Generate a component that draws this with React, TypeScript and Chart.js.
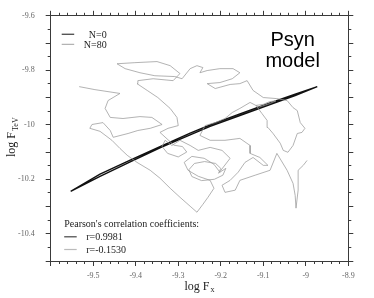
import React, { useEffect, useRef } from 'react';
import { Chart, registerables } from 'chart.js';

Chart.register(...registerables);

// ---- data (log F_x, log F_TeV) ----
const xRange = [-9.6, -8.9];
const yRange = [-10.5, -9.6];
const xTickLabels = ['-9.5', '-9.4', '-9.3', '-9.2', '-9.1', '-9', '-8.9'];
const yTickLabels = ['-9.6', '-9.8', '-10', '-10.2', '-10.4'];

// N=0 : tight, almost linear loop
const n0X = [-9.553, -9.484, -9.413, -9.343, -9.272, -9.225, -9.155, -9.084, -9.025, -8.973,
  -9.025, -9.084, -9.155, -9.225, -9.272, -9.343, -9.413, -9.484, -9.553];
const n0Y = [-10.244, -10.189, -10.136, -10.085, -10.037, -10.006, -9.966, -9.926, -9.893, -9.860,
  -9.888, -9.920, -9.960, -10.000, -10.031, -10.080, -10.130, -10.181, -10.244];

// N=80 : wandering track
const n80X = [-9.533, -9.496, -9.437, -9.465, -9.472, -9.460, -9.430, -9.390, -9.362, -9.338,
  -9.366, -9.395, -9.418, -9.453, -9.460, -9.477, -9.503, -9.508, -9.484, -9.456,
  -9.437, -9.420, -9.397, -9.366, -9.343, -9.319, -9.296, -9.272, -9.256, -9.242,
  -9.230, -9.216, -9.225, -9.253, -9.277, -9.286, -9.268, -9.239, -9.216, -9.202,
  -9.188, -9.195, -9.215, -9.245, -9.268, -9.275, -9.262, -9.238, -9.212, -9.200,
  -9.205, -9.178, -9.197, -9.225, -9.253, -9.272, -9.296, -9.315, -9.331,
  -9.338, -9.325, -9.300, -9.280, -9.290, -9.310, -9.343,
  -9.324, -9.300, -9.303, -9.319, -9.348, -9.373, -9.397, -9.395, -9.359, -9.312,
  -9.296, -9.319, -9.350, -9.402, -9.444, -9.425, -9.390, -9.355, -9.308, -9.291,
  -9.272, -9.256, -9.242, -9.249, -9.232, -9.202, -9.171, -9.155, -9.173, -9.202,
  -9.232, -9.213, -9.178, -9.155, -9.138, -9.124, -9.100, -9.068, -9.044, -9.030,
  -9.020, -9.013, -9.002, -9.009, -9.020, -9.030, -9.042, -9.053, -9.060, -9.077,
  -9.089, -9.091, -9.103, -9.117, -9.100, -9.085, -9.070, -9.085, -9.110,
  -9.131, -9.155, -9.173, -9.190, -9.213, -9.237,
  -9.249, -9.225, -9.190, -9.155, -9.131, -9.131, -9.108, -9.089, -9.100, -9.124,
  -9.143, -9.159, -9.178, -9.197, -9.190, -9.166, -9.155, -9.119, -9.084, -9.068,
  -9.044, -9.030, -9.025, -9.023, -9.018, -9.018, -9.006, -8.997];
const n80Y = [-9.860, -9.871, -9.885, -9.911, -9.940, -9.973, -9.977, -9.970, -9.973, -9.999,
  -10.013, -10.021, -10.032, -10.046, -10.021, -9.992, -9.999, -10.013, -10.024, -10.057,
  -10.087, -10.112, -10.138, -10.167, -10.196, -10.233, -10.266, -10.299, -10.321, -10.292,
  -10.266, -10.233, -10.204, -10.189, -10.167, -10.138, -10.116, -10.123, -10.145, -10.174,
  -10.160, -10.185, -10.200, -10.205, -10.190, -10.165, -10.142, -10.135, -10.142, -10.160,
  -10.178, -10.123, -10.094, -10.083, -10.094, -10.076, -10.057, -10.076, -10.057,
  -10.080, -10.105, -10.118, -10.100, -10.080, -10.075, -10.028,
  -10.013, -10.003, -9.973, -9.940, -9.900, -9.874, -9.849, -9.838, -9.831, -9.838,
  -9.812, -9.783, -9.768, -9.772, -9.776, -9.794, -9.809, -9.820, -9.823, -9.831,
  -9.794, -9.783, -9.790, -9.809, -9.801, -9.794, -9.794, -9.809, -9.831, -9.845,
  -9.849, -9.867, -9.852, -9.849, -9.838, -9.874, -9.900, -9.904, -9.911, -9.937,
  -9.948, -9.992, -10.013, -10.028, -10.032, -10.076, -10.101, -10.094, -10.068, -10.032,
  -10.010, -9.984, -9.959, -9.929, -9.925, -9.915, -9.912, -9.922, -9.935,
  -9.918, -9.940, -9.955, -9.977, -9.992, -10.003,
  -10.039, -10.057, -10.057, -10.050, -10.076, -10.105, -10.120, -10.149, -10.149, -10.120,
  -10.138, -10.174, -10.204, -10.222, -10.248, -10.240, -10.204, -10.185, -10.167, -10.105,
  -10.167, -10.215, -10.259, -10.306, -10.240, -10.167, -10.149, -10.131];

const seriesLabels = ['N=0', 'N=80'];
const pearsonTitle = "Pearson's correlation coefficients:";
const pearsonLabels = ['r=0.9981', 'r=-0.1530'];
const modelLines = ['Psyn', 'model'];

const SERIF = '"Liberation Serif", "Times New Roman", serif';
const SANS = '"Liberation Sans", Arial, sans-serif';
const AX = '#3a3a3a';

const toPts = (xs: number[], ys: number[]) => xs.map((x, i) => ({ x, y: ys[i] }));

function axis(position: string, step: number, tickLen: number, size: number, weight: number, labels?: string[]) {
  const horiz = position === 'top' || position === 'bottom';
  const range = horiz ? xRange : yRange;
  return {
    type: 'linear',
    position,
    min: range[0],
    max: range[1],
    weight,
    ticks: {
      stepSize: step,
      maxTicksLimit: 200,
      display: !!labels,
      autoSkip: false,
      maxRotation: 0,
      color: '#666',
      font: { family: SERIF, size: 8 },
      padding: horiz ? 5 : 11,
      callback: (v: number) => {
        const s = String(Math.round(v * 10) / 10);
        return labels && labels.includes(s) && Math.abs(v * 10 - Math.round(v * 10)) < 1e-6 ? s : '';
      },
    },
    grid: { drawOnChartArea: false, drawTicks: true, tickLength: tickLen, color: AX, lineWidth: 1 },
    border: { display: true, color: AX, width: 1 },
    afterFit: (s: any) => {
      if (horiz) s.height = size; else s.width = size;
    },
  };
}

const textPlugin = {
  id: 'texts',
  afterDraw(chart: any) {
    const ctx = chart.ctx;
    const a = chart.chartArea;
    ctx.save();
    // model label
    ctx.fillStyle = '#000';
    ctx.font = `20px ${SANS}`;
    ctx.textAlign = 'center';
    ctx.textBaseline = 'alphabetic';
    ctx.fillText(modelLines[0], a.left + 242, a.top + 30);
    ctx.fillText(modelLines[1], a.left + 242, a.top + 51);

    // top legend
    const legCols = ['#555', '#a0a0a0'];
    const legW = [1.4, 1];
    ctx.font = `10px ${SERIF}`;
    ctx.textAlign = 'right';
    ctx.fillStyle = '#222';
    seriesLabels.forEach((t, i) => {
      const y = a.top + 18.5 + i * 10;
      ctx.strokeStyle = legCols[i];
      ctx.lineWidth = legW[i];
      ctx.beginPath();
      ctx.moveTo(a.left + 11, y);
      ctx.lineTo(a.left + 23.5, y);
      ctx.stroke();
      ctx.fillText(t, a.left + 56, y + 4);
    });

    // pearson legend
    ctx.textAlign = 'left';
    ctx.font = `10px ${SERIF}`;
    ctx.fillText(pearsonTitle, a.left + 13.5, a.top + 211.5);
    const pCols = ['#444', '#bbb'];
    pearsonLabels.forEach((t, i) => {
      const y = a.top + 221 + i * 12.7;
      ctx.strokeStyle = pCols[i];
      ctx.lineWidth = 1.2;
      ctx.beginPath();
      ctx.moveTo(a.left + 13.5, y);
      ctx.lineTo(a.left + 26, y);
      ctx.stroke();
      ctx.fillText(t, a.left + 35.5, y + 3.5);
    });

    // x title: log F_x
    ctx.fillStyle = '#222';
    ctx.font = `12px ${SERIF}`;
    const main = 'log F';
    const wMain = ctx.measureText(main).width;
    ctx.font = `8px ${SERIF}`;
    const wSub = ctx.measureText('x').width;
    const cx = (a.left + a.right) / 2;
    const x0 = cx - (wMain + wSub + 1) / 2;
    ctx.font = `12px ${SERIF}`;
    ctx.fillText(main, x0, a.bottom + 28.5);
    ctx.font = `8px ${SERIF}`;
    ctx.fillText('x', x0 + wMain + 1, a.bottom + 31);

    // y title: log F_TeV
    ctx.translate(15, 157);
    ctx.rotate(-Math.PI / 2);
    ctx.font = `12px ${SERIF}`;
    ctx.fillText(main, 0, 0);
    const wm = ctx.measureText(main).width;
    ctx.font = `8px ${SERIF}`;
    ctx.fillText('TeV', wm + 1, 2.5);
    ctx.restore();
  },
};

export default function App() {
  const ref = useRef<HTMLCanvasElement>(null);
  useEffect(() => {
    document.body.style.margin = '0';
    if (!ref.current) return;
    const chart = new Chart(ref.current, {
      type: 'scatter',
      data: {
        datasets: [
          {
            label: seriesLabels[1],
            data: toPts(n80X, n80Y),
            showLine: true,
            borderColor: '#999',
            borderWidth: 0.75,
            pointRadius: 0,
            tension: 0,
            fill: false,
          },
          {
            label: seriesLabels[0],
            data: toPts(n0X, n0Y),
            showLine: true,
            borderColor: '#111',
            borderWidth: 1.4,
            pointRadius: 0,
            tension: 0,
            fill: false,
          },
        ],
      },
      options: {
        responsive: false,
        animation: false,
        devicePixelRatio: 1,
        layout: { padding: { left: 0, right: 25.7, top: 15, bottom: 0 } },
        plugins: { legend: { display: false }, tooltip: { enabled: false } },
        scales: {
          x: axis('bottom', 0.1, 5, 37, 2, xTickLabels),
          xm: axis('bottom', 0.02, 3, 0, 1),
          xt: axis('top', 0.1, 5, 0, 1),
          xtm: axis('top', 0.02, 3, 0, 2),
          y: axis('left', 0.1, 5, 50.7, 2, yTickLabels),
          ym: axis('left', 0.05, 3, 0, 1),
          yr: axis('right', 0.1, 5, 0, 1),
          yrm: axis('right', 0.05, 3, 0, 2),
        } as any,
      },
      plugins: [textPlugin],
    } as any);
    return () => chart.destroy();
  }, []);
  return <canvas ref={ref} width={374} height={298} style={{ display: 'block' }} />;
}
